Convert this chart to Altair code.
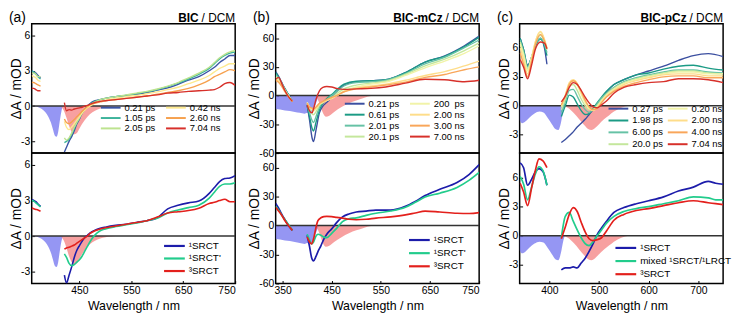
import altair as alt
import pandas as pd

FONT = "Liberation Sans"

# ---------------- (a) BIC / DCM ----------------
A_TIME_LABELS = ["0.21 ps", "1.05 ps", "2.05 ps", "0.42 ns", "2.60 ns", "7.04 ns"]
A_TIME_COLORS = ["#3b54a4", "#3db39b", "#bde38f", "#fde98e", "#f6a04d", "#d7302a"]
A_UV_WL = [358, 362, 366, 370, 375]
A_TOP_UV = [
    [3.0, 2.9, 2.8, 2.6, 2.4],
    [3.0, 2.9, 2.7, 2.5, 2.3],
    [2.8, 2.8, 2.7, 2.5, 2.5],
    [2.6, 2.5, 2.4, 2.2, 2.1],
    [2.0, 2.0, 1.9, 1.8, 1.7],
    [1.5, 1.5, 1.4, 1.3, 1.3],
]
A_VIS_WL = [421, 425, 430, 435, 440, 445, 450, 455, 460, 465, 470, 480, 490, 500, 520,
            540, 560, 580, 600, 620, 640, 660, 680, 700, 710, 720, 730, 740, 750]
A_TOP_VIS = [
    [-3.9, -3.5, -3.0, -2.6, -2.1, -1.5, -1.1, -0.6, -0.3, 0.0, 0.2, 0.45, 0.55, 0.65, 0.8,
     0.9, 1.0, 1.15, 1.35, 1.55, 1.85, 2.2, 2.5, 3.0, 3.3, 3.7, 4.0, 4.3, 4.3],
    [-3.1, -3.0, -2.8, -2.4, -1.9, -1.4, -1.0, -0.6, -0.3, -0.05, 0.15, 0.4, 0.55, 0.65, 0.8,
     0.9, 1.05, 1.2, 1.4, 1.65, 1.95, 2.3, 2.7, 3.2, 3.6, 4.0, 4.3, 4.5, 4.6],
    [-2.7, -2.9, -2.7, -2.3, -1.8, -1.4, -1.0, -0.6, -0.3, -0.1, 0.1, 0.35, 0.55, 0.65, 0.8,
     0.95, 1.1, 1.25, 1.45, 1.7, 2.0, 2.4, 2.8, 3.3, 3.7, 4.1, 4.4, 4.6, 4.7],
    [-1.3, -1.8, -2.0, -1.8, -1.5, -1.2, -0.9, -0.6, -0.35, -0.15, 0.0, 0.25, 0.4, 0.5, 0.65,
     0.8, 0.9, 1.05, 1.2, 1.4, 1.6, 1.9, 2.2, 2.6, 2.9, 3.2, 3.4, 3.6, 3.6],
    [-1.1, -1.4, -1.5, -1.35, -1.15, -0.9, -0.7, -0.45, -0.25, -0.05, 0.1, 0.25, 0.35, 0.45, 0.55,
     0.65, 0.75, 0.85, 1.0, 1.15, 1.3, 1.5, 1.8, 2.2, 2.5, 2.7, 2.9, 3.1, 3.0],
    [0.3, -0.4, -0.3, -0.35, -0.25, -0.2, -0.15, -0.1, 0.0, 0.05, 0.15, 0.3, 0.4, 0.45, 0.55,
     0.65, 0.75, 0.85, 0.95, 1.1, 1.15, 1.25, 1.3, 1.35, 1.4, 1.6, 1.9, 2.0, 1.75],
]
A_BOT_UV = [
    [3.1, 3.0, 2.9, 2.7, 2.5],
    [3.0, 2.95, 2.8, 2.65, 2.45],
    [2.4, 2.3, 2.25, 2.2, 2.1],
]
A_BOT_VIS = [
    [-3.3, -3.95, -3.3, -2.6, -1.8, -1.2, -0.8, -0.45, -0.15, 0.05, 0.25, 0.5, 0.65, 0.75, 0.9,
     1.0, 1.15, 1.3, 1.55, 2.3, 2.6, 2.8, 2.95, 3.6, 4.1, 4.6, 4.85, 4.9, 5.1],
    [-1.5, -1.8, -2.3, -2.5, -2.4, -2.2, -2.0, -1.7, -1.3, -0.9, -0.5, 0.1, 0.45, 0.6, 0.8,
     0.95, 1.1, 1.3, 1.5, 1.95, 2.2, 2.4, 2.6, 3.2, 3.7, 4.2, 4.4, 4.4, 4.5],
    [-1.1, -1.0, -0.95, -0.85, -0.75, -0.6, -0.45, -0.3, -0.15, 0.0, 0.2, 0.45, 0.6, 0.7, 0.85,
     1.0, 1.15, 1.3, 1.6, 1.95, 2.05, 2.15, 2.35, 2.75, 2.85, 3.0, 3.1, 2.9, 2.9],
]
A_ABS_WL = [358, 368, 376, 384, 390, 395, 399, 403, 406, 409, 412, 415, 418]
A_ABS = [0, -0.05, -0.2, -0.5, -0.9, -1.4, -2.0, -2.55, -2.6, -2.2, -1.3, -0.5, 0]
A_EM_WL = [414, 420, 425, 430, 435, 440, 445, 450, 460, 470, 480, 490, 500, 510, 520]
A_EM = [0, -0.4, -1.0, -1.7, -2.2, -2.4, -2.3, -1.9, -1.2, -0.7, -0.4, -0.2, -0.1, -0.03, 0]

# ---------------- (b) BIC-mCz / DCM ----------------
B_TIME_LABELS = ["0.21 ps", "0.61 ps", "2.01 ps", "20.1 ps",
                 "200\u00a0\u00a0ps", "2.00 ns", "3.00 ns", "7.00 ns"]
B_TIME_COLORS = ["#3b4fa0", "#1b9b85", "#66c2a5", "#c4e79c",
                 "#f1f3a8", "#fedd8a", "#f9a65a", "#d7302a"]
B_UV_WL = [336, 342, 348, 355, 362, 370]
B_TOP_UV = [
    [25, 20, 14, 7, 1, -6],
    [24, 19, 13, 7, 1, -6],
    [22, 18, 13, 6, 0, -6],
    [20, 17, 12, 6, 0, -6],
    [19, 16, 12, 5, 0, -6],
    [17, 15, 11, 5, -1, -6],
    [16, 14, 10, 4, -1, -6],
    [17, 19, 13, 5, -1, -6],
]
B_VIS_WL = [400, 405, 410, 413, 418, 425, 432, 440, 450, 460, 475, 500, 530, 560, 600,
            640, 680, 720, 750]
B_TOP_VIS = [
    [-10, -26, -44, -48, -36, -18, -11, -7, -2, 4, 11, 14.5, 15.5, 16.5, 24, 35, 41.5, 52, 62],
    [-10, -22, -34, -37, -28, -15, -8, -3, 1, 6, 12, 15, 15.5, 16.5, 24, 35, 41, 51, 61],
    [-9, -18, -26, -28, -22, -12, -7, -4, 0, 4, 10, 13.5, 14.5, 16, 23, 33, 40, 50, 58],
    [-8, -14, -19, -20, -17, -10, -7, -5, -2, 2, 7, 11, 13, 15, 22, 31, 38, 47, 55],
    [-7, -12, -15, -16, -14, -9, -7, -5, -3, 0, 5, 9, 12, 14, 21, 29, 36, 44, 52],
    [-8, -12, -14, -15, -13, -9, -7, -5, -3, 0, 4, 8, 10, 12, 16, 21, 25, 31, 36],
    [-8, -12, -13, -14, -12, -8, -6, -4, -2, 0, 4, 7, 9, 11, 14, 19, 22, 27, 30],
    [-10, -16, -18, -14, -4, 5, 8.5, 9.5, 9, 7.5, 6.5, 7, 7.5, 9, 13, 17, 16.5, 14.5, 16],
]
B_BOT_UV = [
    [23, 18, 12, 6, 0, -5],
    [20, 16, 11, 6, 1, -5],
    [19, 15, 11, 5, 0, -5],
]
B_BOT_VIS_WL = [400, 405, 409, 413, 418, 422, 428, 434, 440, 450, 460, 472, 485, 500, 520,
                540, 570, 600, 620, 640, 670, 705, 730, 750]
B_BOT_VIS = [
    [-10, -22, -33, -36.5, -32, -27, -21, -14, -9, -3.5, 3, 9, 12, 14, 15,
     16, 16, 20, 25, 31, 37.5, 44.5, 53, 63],
    [-9, -15, -19, -17, -11, -9, -10, -12, -12.5, -8, -3, 4, 7, 8, 10.5,
     12.7, 15, 19, 24, 29.5, 33.5, 39.5, 47, 55],
    [-12, -17, -19, -14, -2, 5, 8, 9.2, 9.5, 9.2, 8.5, 7.7, 6.5, 6, 6.5,
     7.7, 9, 11, 13, 15, 14, 12.7, 12.5, 13.4],
]
B_ABS_WL = [336, 345, 355, 365, 375, 385, 395, 400, 405, 410, 415, 420, 424]
B_ABS = [-14, -14.5, -15.5, -16, -17, -18, -19, -18, -19, -17, -12, -5, 0]
B_EM_WL = [418, 425, 432, 438, 445, 455, 470, 485, 500, 515, 530, 540]
B_EM = [0, -8, -18, -22, -21, -17, -12, -8, -5, -2.5, -0.5, 0]

# ---------------- (c) BIC-pCz / DCM ----------------
C_TIME_LABELS = ["0.27 ps", "1.98 ps", "6.00 ps", "20.0 ps",
                 "0.20 ns", "2.00 ns", "4.00 ns", "7.04 ns"]
C_TIME_COLORS = ["#3b4fa0", "#1b9b85", "#66c2a5", "#c4e79c",
                 "#f1f3a8", "#fedd8a", "#f9a65a", "#d7302a"]
C_UV_WL = [341, 348, 356, 364, 372, 382, 390, 395]
C_TOP_UV = [
    [7.0, 5.8, 4.2, 5.0, 6.3, 7.0, 6.0, 4.3],
    [7.0, 5.8, 4.1, 5.0, 6.2, 6.9, 6.2, 5.2],
    [6.8, 5.6, 4.0, 5.0, 6.3, 7.0, 6.4, 5.5],
    [6.6, 5.4, 3.8, 5.0, 6.5, 7.3, 6.6, 5.8],
    [6.4, 5.2, 3.6, 5.0, 6.7, 7.6, 6.8, 6.0],
    [6.0, 4.8, 3.3, 4.8, 6.7, 7.7, 6.9, 6.0],
    [5.5, 4.3, 3.0, 4.6, 6.4, 7.4, 6.7, 5.9],
    [4.8, 4.0, 2.8, 4.2, 5.9, 6.6, 6.5, 5.9],
]
C_VIS_WL = [424, 432, 440, 448, 456, 464, 472, 480, 488, 496, 505, 515, 530, 550, 575,
            600, 630, 660, 690, 720, 750]
C_TOP_VIS = [
    [-3.8, -3.5, -3.1, -2.7, -2.2, -1.8, -1.4, -0.9, -0.4, 0.2, 0.8, 1.4, 2.2, 2.7, 3.2,
     3.6, 4.1, 4.7, 5.2, 5.4, 5.1],
    [-1.1, 0.0, 1.1, 0.9, 0.2, -0.5, -0.9, -0.8, -0.3, 0.3, 0.9, 1.5, 2.2, 2.7, 3.2,
     3.4, 3.8, 4.1, 4.2, 3.9, 3.7],
    [-0.7, 0.4, 1.6, 1.7, 1.0, 0.2, -0.4, -0.7, -0.4, 0.2, 0.8, 1.3, 1.9, 2.5, 2.9,
     3.2, 3.5, 3.7, 3.7, 3.5, 3.4],
    [-0.4, 0.7, 2.0, 2.2, 1.6, 0.7, 0.0, -0.4, -0.4, 0.0, 0.6, 1.2, 1.8, 2.4, 2.8,
     3.1, 3.4, 3.6, 3.6, 3.4, 3.3],
    [-0.1, 1.0, 2.3, 2.6, 2.1, 1.2, 0.3, -0.3, -0.4, -0.1, 0.5, 1.1, 1.7, 2.3, 2.7,
     3.0, 3.3, 3.5, 3.5, 3.3, 3.3],
    [0.0, 1.1, 2.4, 2.7, 2.3, 1.4, 0.5, -0.2, -0.5, -0.2, 0.4, 1.0, 1.6, 2.2, 2.6,
     2.9, 3.2, 3.3, 3.3, 3.1, 3.1],
    [0.1, 1.0, 2.2, 2.6, 2.3, 1.5, 0.6, -0.1, -0.4, -0.3, 0.3, 0.9, 1.5, 2.0, 2.4,
     2.7, 3.0, 3.1, 3.1, 2.9, 2.9],
    [0.4, 1.0, 1.9, 2.4, 2.2, 1.6, 0.9, 0.3, -0.1, -0.2, 0.1, 0.5, 1.3, 1.9, 2.2,
     2.4, 2.5, 2.8, 2.8, 2.7, 2.4],
]
C_BOT_UV_WL = [341, 348, 356, 364, 372, 379, 387, 395]
C_BOT_UV = [
    [7.5, 7.0, 5.2, 5.8, 6.6, 6.9, 6.6, 5.2],
    [6.1, 5.3, 3.7, 5.0, 6.4, 7.1, 6.7, 5.2],
    [5.4, 4.5, 3.1, 4.9, 6.8, 7.9, 7.7, 7.0],
]
C_BOT_VIS_WL = [424, 432, 440, 448, 456, 464, 472, 480, 488, 496, 505, 515, 530, 550, 575,
                600, 630, 660, 690, 720, 735, 750]
C_BOT_VIS = [
    [-3.5, -3.3, -3.3, -3.2, -3.3, -2.8, -2.3, -1.6, -0.8, 0.1, 0.8, 1.5, 2.4, 2.9, 3.3,
     3.6, 4.0, 4.6, 5.0, 5.6, 5.4, 5.3],
    [-0.2, 2.0, 2.4, 1.5, 0.6, -0.2, -0.8, -1.0, -0.6, 0.0, 0.6, 1.3, 2.0, 2.5, 2.8,
     3.0, 3.3, 3.6, 4.0, 3.9, 3.7, 3.7],
    [-0.3, 0.9, 2.2, 2.9, 2.5, 1.4, 0.4, -0.3, -0.5, -0.4, -0.2, 0.5, 1.6, 2.2, 2.6,
     2.8, 3.1, 3.4, 3.6, 3.4, 3.3, 3.2],
]
C_ABS_WL = [340, 345, 352, 360, 370, 380, 388, 396, 405, 412, 418, 423, 428, 431]
C_ABS = [-1.5, -1.8, -1.6, -1.2, -0.8, -0.6, -0.7, -1.2, -1.9, -2.4, -2.5, -1.8, -0.5, 0]
C_EM_WL = [428, 440, 450, 460, 470, 478, 485, 492, 500, 510, 520, 530, 545, 560]
C_EM = [0, -0.3, -0.8, -1.4, -2.0, -2.4, -2.5, -2.3, -1.9, -1.4, -1.0, -0.6, -0.2, 0]

STATE_LABELS_AB = ["\u00b9SRCT", "\u00b9SRCT'", "\u00b3SRCT"]
STATE_LABELS_C = ["\u00b9SRCT", "mixed \u00b9SRCT/\u00b9LRCT", "\u00b3SRCT"]
STATE_COLORS = ["#1c1caa", "#22cc8c", "#e3201c"]

ABS_FILL = "#7b7cf0"
EM_FILL = "#f47c7c"

# ---------------- layout ----------------
W = 206
HT, HB = 131, 132


def lines_df(uv_wl, uv_vals, vis_wl, vis_vals, labels, colors):
    rows = []
    for i, (lab, col) in enumerate(zip(labels, colors)):
        for w, v in zip(uv_wl, uv_vals[i]):
            rows.append({"wl": w, "val": v, "series": lab, "col": col, "seg": f"{i}-uv"})
        for w, v in zip(vis_wl, vis_vals[i]):
            rows.append({"wl": w, "val": v, "series": lab, "col": col, "seg": f"{i}-vis"})
    return pd.DataFrame(rows)


def legend_layers(labels, colors, x0, y0, dy, nrows, dx, sym, gap, fs, sw):
    rows = []
    for i, (lab, col) in enumerate(zip(labels, colors)):
        c, r = divmod(i, nrows)
        lx = x0 + c * dx
        rows.append({"lx": lx, "lx2": lx + sym, "tx": lx + sym + gap,
                     "ly": y0 + r * dy, "label": lab, "col": col})
    df = pd.DataFrame(rows)
    rule = alt.Chart(df).mark_rule(strokeWidth=sw).encode(
        x=alt.X("lx:Q", scale=None, axis=None),
        x2="lx2:Q",
        y=alt.Y("ly:Q", scale=None, axis=None),
        color=alt.Color("col:N", scale=None),
    )
    text = alt.Chart(df).mark_text(align="left", baseline="middle", font=FONT,
                                   fontSize=fs, color="black").encode(
        x=alt.X("tx:Q", scale=None, axis=None),
        y=alt.Y("ly:Q", scale=None, axis=None),
        text="label:N",
    )
    return [rule, text]


def panel(w, h, xdom, ydom, xticks, yticks, ldf, labels, colors, absw, absv, emw, emv,
          leg, lw, bottom, tag=None, name=None):
    xsc = alt.Scale(domain=xdom, nice=False, zero=False)
    ysc = alt.Scale(domain=ydom, nice=False, zero=False)
    if bottom:
        xax = alt.Axis(values=xticks, title="Wavelength / nm", format="d", tickSize=3,
                       offset=-3, labelPadding=2, titlePadding=4)
    else:
        xax = None
    yax = alt.Axis(values=yticks, title="\u0394A / mOD", format="d", tickSize=3,
                   offset=-3, labelPadding=2, titlePadding=-3, titleFontSize=14,
                   labelExpr="replace(datum.label, '\u2212', '-')")
    X = alt.X("wl:Q", scale=xsc, axis=xax)
    Y = alt.Y("val:Q", scale=ysc, axis=yax)

    absdf = pd.DataFrame({"wl": absw, "val": absv})
    emdf = pd.DataFrame({"wl": emw, "val": emv})
    abs_l = alt.Chart(absdf).mark_area(color=ABS_FILL, opacity=0.8, clip=True,
                                       interpolate="monotone").encode(
        x=X, y=Y, y2=alt.datum(0))
    em_l = alt.Chart(emdf).mark_area(color=EM_FILL, opacity=0.72, clip=True,
                                     interpolate="monotone").encode(
        x=X, y=Y, y2=alt.datum(0))
    zero = alt.Chart(pd.DataFrame({"wl": [xdom[0], xdom[1]], "val": [0, 0]})).mark_line(
        color="#333333", strokeWidth=1.5, clip=True).encode(x=X, y=Y)
    ln = alt.Chart(ldf).mark_line(strokeWidth=lw, clip=True, interpolate="monotone").encode(
        x=X, y=Y,
        color=alt.Color("col:N", scale=None),
        detail="seg:N",
    )
    layers = [abs_l, em_l, zero, ln] + legend_layers(labels, colors, **leg)
    if tag is not None:
        tdf = pd.DataFrame({"t": [tag], "b": [name], "n": ["/ DCM"]})
        layers.append(alt.Chart(tdf).mark_text(align="left", baseline="alphabetic",
                                               font=FONT, fontSize=14, color="black").encode(
            x=alt.value(-23), y=alt.value(-2), text="t:N"))
        layers.append(alt.Chart(tdf).mark_text(align="right", baseline="alphabetic",
                                               font=FONT, fontSize=12, fontWeight="bold",
                                               color="black").encode(
            x=alt.value(w - 37), y=alt.value(-2), text="b:N"))
        layers.append(alt.Chart(tdf).mark_text(align="left", baseline="alphabetic",
                                               font=FONT, fontSize=12, color="black").encode(
            x=alt.value(w - 34), y=alt.value(-2), text="n:N"))
    return alt.layer(*layers).properties(width=w, height=h)


# top-panel legends (two columns) and bottom-panel legends
leg_a_top = dict(x0=70, y0=85, dy=10.5, nrows=3, dx=66, sym=20, gap=4, fs=9.5, sw=2)
leg_b_top = dict(x0=70, y0=81, dy=11.1, nrows=4, dx=66, sym=20, gap=4, fs=9.5, sw=2)
leg_c_top = dict(x0=90, y0=86, dy=12.0, nrows=4, dx=60, sym=20, gap=4, fs=9.5, sw=2)
leg_a_bot = dict(x0=134, y0=94, dy=12.7, nrows=3, dx=0, sym=21, gap=4, fs=10, sw=2.2)
leg_b_bot = dict(x0=135, y0=88, dy=13.3, nrows=3, dx=0, sym=21, gap=4, fs=10, sw=2.2)
leg_c_bot = dict(x0=97, y0=96, dy=13.3, nrows=3, dx=0, sym=21, gap=4, fs=10, sw=2.2)

a_top = panel(W, HT, [358, 750], [-4, 7], [450, 550, 650, 750], [-3, 0, 3, 6],
              lines_df(A_UV_WL, A_TOP_UV, A_VIS_WL, A_TOP_VIS, A_TIME_LABELS, A_TIME_COLORS),
              A_TIME_LABELS, A_TIME_COLORS, A_ABS_WL, A_ABS, A_EM_WL, A_EM,
              leg_a_top, 1.4, False, "(a)", "BIC")
a_bot = panel(W, HB, [358, 750], [-4, 7], [450, 550, 650, 750], [-3, 0, 3, 6],
              lines_df(A_UV_WL, A_BOT_UV, A_VIS_WL, A_BOT_VIS, STATE_LABELS_AB, STATE_COLORS),
              STATE_LABELS_AB, STATE_COLORS, A_ABS_WL, A_ABS, A_EM_WL, A_EM,
              leg_a_bot, 1.6, True)

b_top = panel(W, HT, [336, 750], [-60, 75], [350, 450, 550, 650, 750], [-60, -30, 0, 30, 60],
              lines_df(B_UV_WL, B_TOP_UV, B_VIS_WL, B_TOP_VIS, B_TIME_LABELS, B_TIME_COLORS),
              B_TIME_LABELS, B_TIME_COLORS, B_ABS_WL, B_ABS, B_EM_WL, B_EM,
              leg_b_top, 1.4, False, "(b)", "BIC-mCz")
b_bot = panel(W, HB, [336, 750], [-60, 75], [350, 450, 550, 650, 750], [-60, -30, 0, 30, 60],
              lines_df(B_UV_WL, B_BOT_UV, B_BOT_VIS_WL, B_BOT_VIS, STATE_LABELS_AB, STATE_COLORS),
              STATE_LABELS_AB, STATE_COLORS, B_ABS_WL, B_ABS, B_EM_WL, B_EM,
              leg_b_bot, 1.7, True)

c_top = panel(W, HT, [340, 750], [-4.9, 8.5], [400, 500, 600, 700], [-3, 0, 3, 6],
              lines_df(C_UV_WL, C_TOP_UV, C_VIS_WL, C_TOP_VIS, C_TIME_LABELS, C_TIME_COLORS),
              C_TIME_LABELS, C_TIME_COLORS, C_ABS_WL, C_ABS, C_EM_WL, C_EM,
              leg_c_top, 1.4, False, "(c)", "BIC-pCz")
c_bot = panel(W, HB, [340, 750], [-4.9, 8.5], [400, 500, 600, 700], [-3, 0, 3, 6],
              lines_df(C_BOT_UV_WL, C_BOT_UV, C_BOT_VIS_WL, C_BOT_VIS, STATE_LABELS_C, STATE_COLORS),
              STATE_LABELS_C, STATE_COLORS, C_ABS_WL, C_ABS, C_EM_WL, C_EM,
              leg_c_bot, 1.7, True)

chart = alt.concat(a_top, b_top, c_top, a_bot, b_bot, c_bot, columns=3,
                   spacing={"row": 0, "column": 41}, bounds="flush").properties(
    padding=0, background="white"
).configure(font=FONT).configure_view(
    stroke="black", strokeWidth=1.5
).configure_axis(
    labelFont=FONT, titleFont=FONT, labelFontSize=10.5, titleFontSize=12.5,
    labelColor="black", titleColor="black", tickColor="black", domain=False,
    grid=False, titleFontWeight="normal"
)

chart.save("out.html", embed_options={"renderer": "svg", "actions": False})
